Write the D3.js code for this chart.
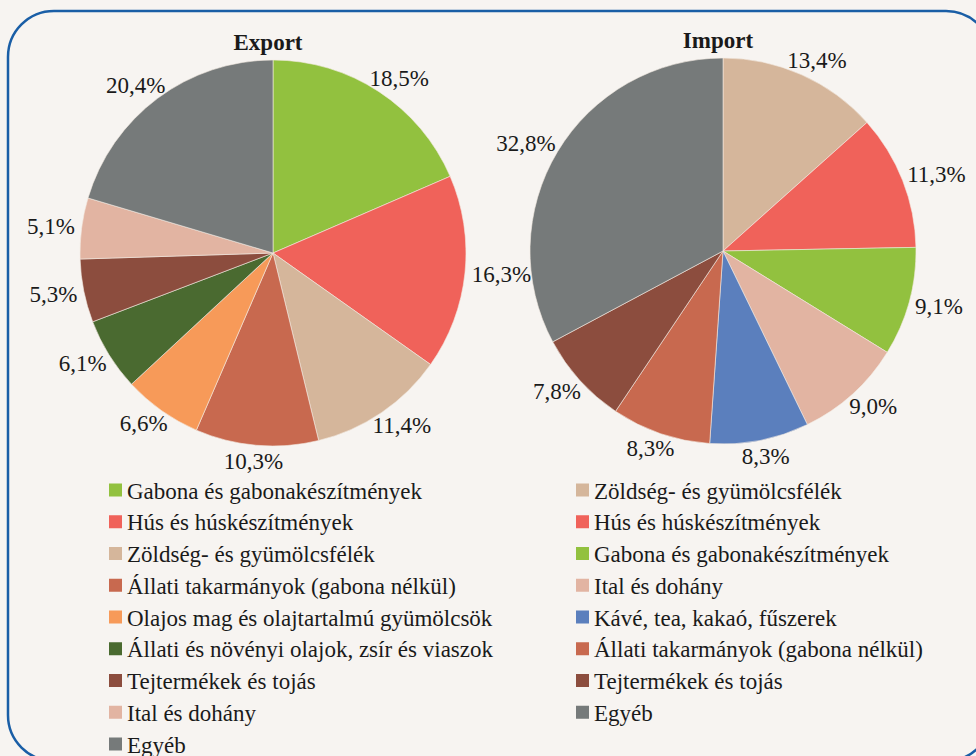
<!DOCTYPE html>
<meta charset="utf-8">
<head>
  <title>Export / Import</title>
</head>

<style>
  body { margin: 0; background: #f7f4f1; }
</style>

<body>
  <div id="my_dataviz"></div>

  <script src="https://d3js.org/d3.v7.min.js"></script>
  <script>

  // categories, colours and values
  var exportCats = ["Gabona és gabonakészítmények", "Hús és húskészítmények", "Zöldség- és gyümölcsfélék",
    "Állati takarmányok (gabona nélkül)", "Olajos mag és olajtartalmú gyümölcsök",
    "Állati és növényi olajok, zsír és viaszok", "Tejtermékek és tojás", "Ital és dohány", "Egyéb"];
  var exportVals = [18.5, 16.3, 11.4, 10.3, 6.6, 6.1, 5.3, 5.1, 20.4];

  var importCats = ["Zöldség- és gyümölcsfélék", "Hús és húskészítmények", "Gabona és gabonakészítmények",
    "Ital és dohány", "Kávé, tea, kakaó, fűszerek", "Állati takarmányok (gabona nélkül)",
    "Tejtermékek és tojás", "Egyéb"];
  var importVals = [13.4, 11.3, 9.1, 9.0, 8.3, 8.3, 7.8, 32.8];

  var catColors = {
    "Gabona és gabonakészítmények": "#92c13f",
    "Hús és húskészítmények": "#f0625a",
    "Zöldség- és gyümölcsfélék": "#d5b69b",
    "Állati takarmányok (gabona nélkül)": "#c8694f",
    "Olajos mag és olajtartalmú gyümölcsök": "#f79a59",
    "Állati és növényi olajok, zsír és viaszok": "#4a6a30",
    "Tejtermékek és tojás": "#8c4d3e",
    "Ital és dohány": "#e2b4a2",
    "Kávé, tea, kakaó, fűszerek": "#5b7fbd",
    "Egyéb": "#767a7a"
  };

  var serif = "'Liberation Serif'";
  var width = 976, height = 756;

  var svg = d3.select("#my_dataviz")
    .append("svg")
      .attr("width", width)
      .attr("height", height)
      .style("font-family", serif);

  // rounded frame
  svg.append("rect")
    .attr("x", 8).attr("y", 11)
    .attr("width", 984).attr("height", 750)
    .attr("rx", 46).attr("ry", 46)
    .style("fill", "#f7f4f1")
    .style("stroke", "#1a5ea6")
    .style("stroke-width", 2.5);

  var radius = 193;
  var pie = d3.pie().sort(null).value(function(d) { return d.value; });
  var arc = d3.arc().innerRadius(0).outerRadius(radius);
  var fmt = function(v) { return d3.format(".1f")(v).replace(".", ",") + "%"; };

  function drawPie(cx, cy, title, cats, vals) {
    var data = cats.map(function(c, i) { return {cat: c, value: vals[i]}; });
    var g = svg.append("g").attr("transform", "translate(" + cx + "," + cy + ")");

    g.selectAll("path")
      .data(pie(data))
      .enter()
      .append("path")
        .attr("d", arc)
        .style("fill", function(d) { return catColors[d.data.cat]; })
        .style("stroke", "#f3ebe3")
        .style("stroke-width", 0.6);

    g.append("text")
      .attr("x", -5).attr("y", -radius - 10)
      .attr("text-anchor", "middle")
      .style("font-family", serif)
      .style("font-size", "23px")
      .style("font-weight", "bold")
      .style("fill", "#1a1a1a")
      .text(title);

    // labels outside the arc end, box pushed away from the pie
    g.selectAll(".lbl")
      .data(pie(data))
      .enter()
      .append("text")
        .attr("class", "lbl")
        .attr("text-anchor", "middle")
        .attr("dominant-baseline", "central")
        .style("font-family", serif)
        .style("font-size", "23px")
        .style("fill", "#1a1a1a")
        .text(function(d) { return fmt(d.data.value); })
        .each(function(d) {
          var a = (d.startAngle + d.endAngle) / 2;
          var w = this.getComputedTextLength(), h = 18;
          var rr = radius + 7;
          var x = Math.sin(a) * rr + Math.sin(a) * w / 2;
          var y = -Math.cos(a) * rr - Math.cos(a) * h / 2;
          d3.select(this).attr("x", x).attr("y", y);
        });
  }

  drawPie(273, 253, "Export", exportCats, exportVals);
  drawPie(723, 251, "Import", importCats, importVals);

  // legends
  function drawLegend(x0, cats) {
    var y = d3.scaleLinear().domain([0, 1]).range([490, 521.75]);
    var lg = svg.append("g");
    lg.selectAll("rect")
      .data(cats)
      .enter()
      .append("rect")
        .attr("x", x0).attr("y", function(d, i) { return y(i) - 6.5; })
        .attr("width", 13).attr("height", 13)
        .style("fill", function(d) { return catColors[d]; });
    lg.selectAll("text")
      .data(cats)
      .enter()
      .append("text")
        .attr("x", x0 + 18).attr("y", function(d, i) { return y(i) + 1; })
        .attr("dominant-baseline", "central")
        .style("font-family", serif)
        .style("font-size", "23px")
        .style("fill", "#1a1a1a")
        .text(function(d) { return d; });
  }

  drawLegend(109, exportCats);
  drawLegend(576, importCats);

  </script>
</body>
</html>
